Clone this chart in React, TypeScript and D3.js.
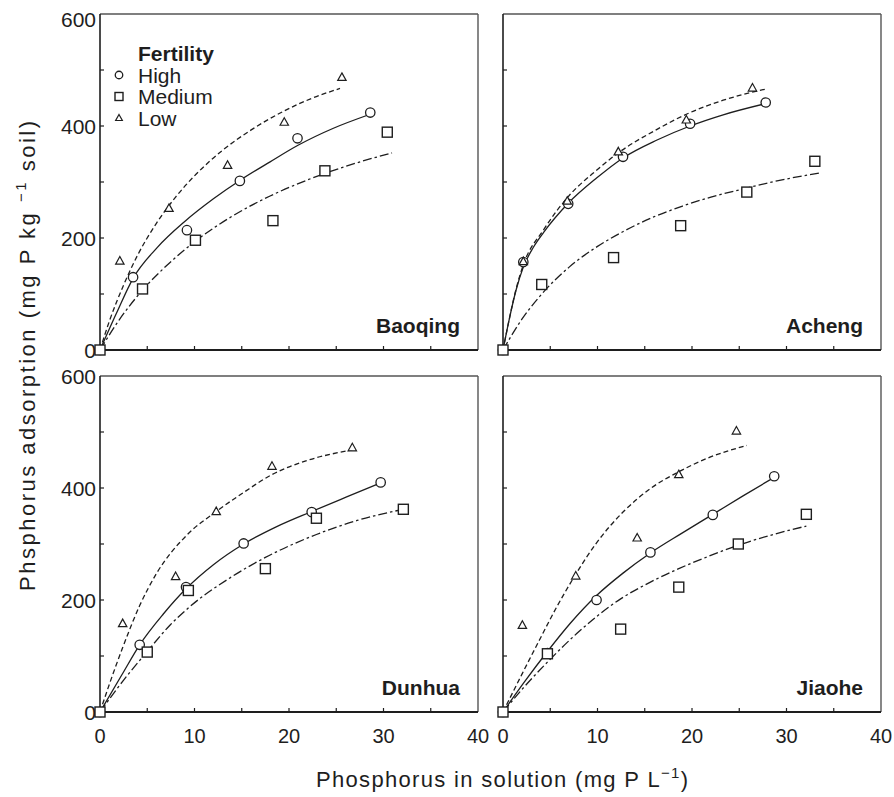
import React from "react";
import * as d3 from "d3";

type Pt = [number, number];

// ---------- tick labels ----------
const xTickLabels = [0, 10, 20, 30, 40];
const yTickLabels = [0, 200, 400, 600];
const xMinorTicks = [5, 10, 15, 20, 25, 30, 35];
const yMinorTicks = [100, 200, 300, 400, 500];
const fertilityLevels = ["High", "Medium", "Low"];
const siteNames = ["Baoqing", "Acheng", "Dunhua", "Jiaohe"];

// ---------- observed points [P in solution, P adsorbed] ----------
const baoqingHigh: Pt[] = [[0, 0], [3.5, 130], [9.2, 214], [14.8, 302], [20.9, 378], [28.6, 424]];
const baoqingMedium: Pt[] = [[0, 0], [4.5, 109], [10.1, 196], [18.3, 231], [23.8, 320], [30.4, 389]];
const baoqingLow: Pt[] = [[0, 0], [2.1, 159], [7.3, 253], [13.5, 330], [19.5, 407], [25.6, 487]];

const achengHigh: Pt[] = [[0, 0], [2.15, 157], [6.9, 261], [12.7, 345], [19.8, 404], [27.8, 442]];
const achengMedium: Pt[] = [[0, 0], [4.1, 117], [11.7, 165], [18.8, 222], [25.8, 282], [33.0, 337]];
const achengLow: Pt[] = [[0, 0], [2.15, 158], [6.8, 266], [12.2, 354], [19.4, 411], [26.4, 468]];

const dunhuaHigh: Pt[] = [[0, 0], [4.2, 120], [9.1, 223], [15.2, 301], [22.4, 357], [29.7, 410]];
const dunhuaMedium: Pt[] = [[0, 0], [5.0, 107], [9.35, 217], [17.5, 256], [22.9, 346], [32.1, 362]];
const dunhuaLow: Pt[] = [[0, 0], [2.4, 158], [8.0, 242], [12.3, 358], [18.2, 439], [26.7, 472]];

const jiaoheHigh: Pt[] = [[0, 0], [4.7, 105], [9.9, 200], [15.6, 285], [22.2, 352], [28.7, 421]];
const jiaoheMedium: Pt[] = [[0, 0], [4.7, 104], [12.45, 148], [18.6, 223], [24.9, 300], [32.1, 353]];
const jiaoheLow: Pt[] = [[0, 0], [2.05, 155], [7.7, 243], [14.2, 311], [18.6, 424], [24.7, 502]];

// ---------- fitted curves ----------
const baoqingHighFit: Pt[] = [[0, 0], [1.75, 66], [3.5, 128], [6, 182], [9, 230], [12, 270], [15, 305], [18, 336], [21, 366], [24.7, 396], [28.6, 421]];
const baoqingMediumFit: Pt[] = [[0, 0], [2, 53], [4.5, 107], [7, 150], [10, 193], [14, 239], [18, 275], [22, 304], [26, 328], [30.9, 352]];
const baoqingLowFit: Pt[] = [[0, 0], [1, 52], [2.5, 116], [4, 170], [6, 227], [8, 273], [10, 311], [13, 357], [16, 393], [19.5, 427], [22.5, 450], [25.4, 467]];

const achengHighFit: Pt[] = [[0, 0], [0.7, 58], [1.4, 108], [2.15, 148], [3.2, 183], [4.3, 210], [6.9, 262], [9.9, 307], [12.7, 343], [16.3, 375], [19.8, 400], [23.3, 420], [27.8, 440]];
const achengMediumFit: Pt[] = [[0, 0], [2, 55], [4, 98], [7, 148], [10, 185], [13, 214], [16, 238], [19, 257], [22, 273], [25.5, 288], [29, 302], [33.5, 316]];
const achengLowFit: Pt[] = [[0, 0], [0.7, 58], [1.4, 110], [2.15, 152], [4.27, 214], [6.91, 274], [9.9, 321], [12.2, 352], [16.3, 394], [19.4, 421], [23.3, 446], [27.8, 466]];

const dunhuaHighFit: Pt[] = [[0, 0], [2.3, 66], [4.2, 120], [6.7, 175], [9.1, 220], [12, 263], [15.2, 300], [18.7, 331], [22.4, 358], [26.1, 384], [29.7, 409]];
const dunhuaMediumFit: Pt[] = [[0, 0], [2.5, 57], [5, 108], [7.4, 155], [9.5, 188], [13.8, 240], [17.5, 276], [22.9, 317], [27.2, 342], [32.1, 362]];
const dunhuaLowFit: Pt[] = [[0, 0], [1, 50], [2.4, 115], [4.2, 190], [6, 248], [9.2, 316], [12.3, 358], [15.2, 392], [18.2, 424], [21.9, 449], [26.7, 468]];

const jiaoheHighFit: Pt[] = [[0, 0], [2.15, 51], [4.7, 108], [7.1, 158], [9.9, 208], [12.7, 248], [15.6, 284], [18.9, 319], [22.2, 353], [25.4, 386], [28.7, 419]];
const jiaoheMediumFit: Pt[] = [[0, 0], [2.2, 44], [4.7, 89], [7.8, 140], [12.45, 202], [15.6, 232], [18.6, 256], [21.6, 277], [24.9, 298], [28.6, 317], [32.1, 332]];
const jiaoheLowFit: Pt[] = [[0, 0], [2.05, 69], [3.9, 130], [5.7, 188], [7.7, 246], [9.9, 302], [12.7, 357], [15.6, 399], [18.6, 429], [21.9, 455], [25.8, 476]];

const sitePoints: Pt[][][] = [
  [baoqingHigh, baoqingMedium, baoqingLow],
  [achengHigh, achengMedium, achengLow],
  [dunhuaHigh, dunhuaMedium, dunhuaLow],
  [jiaoheHigh, jiaoheMedium, jiaoheLow],
];
const siteFits: Pt[][][] = [
  [baoqingHighFit, baoqingMediumFit, baoqingLowFit],
  [achengHighFit, achengMediumFit, achengLowFit],
  [dunhuaHighFit, dunhuaMediumFit, dunhuaLowFit],
  [jiaoheHighFit, jiaoheMediumFit, jiaoheLowFit],
];

// ---------- layout ----------
const W = 894;
const H = 797;
const panelW = 378;
const panelH = 336;
const panelOrigins = [
  { left: 100, top: 14 },
  { left: 503, top: 14 },
  { left: 100, top: 376 },
  { left: 503, top: 376 },
];
const FONT = "'Liberation Sans', Arial, Helvetica, sans-serif";
const INK = "#1e1e1e";
const dashStyles = ["none", "9,3,2.5,3", "5,3"]; // High solid, Medium dash-dot, Low dashed

function Marker({ kind, cx, cy, s = 1 }: { kind: number; cx: number; cy: number; s?: number }) {
  if (kind === 0) {
    return <circle cx={cx} cy={cy} r={4.7 * s} fill="#fff" stroke={INK} strokeWidth={1.3} />;
  }
  if (kind === 1) {
    const h = 5 * s;
    return <rect x={cx - h} y={cy - h} width={2 * h} height={2 * h} fill="#fff" stroke={INK} strokeWidth={1.4} />;
  }
  const a = 4.2 * s;
  return (
    <path
      d={`M${cx},${cy - a * 1.05} L${cx + a},${cy + a * 0.75} L${cx - a},${cy + a * 0.75} Z`}
      fill="#fff"
      stroke={INK}
      strokeWidth={1.2}
    />
  );
}

export default function App() {
  const x = d3.scaleLinear().domain([0, 40]).range([0, panelW]);
  const y = d3.scaleLinear().domain([0, 600]).range([panelH, 0]);
  const line = d3
    .line<Pt>()
    .x((d) => x(d[0]))
    .y((d) => y(d[1]))
    .curve(d3.curveMonotoneX);

  const markerOrder = [0, 2, 1];

  return (
    <svg
      width={W}
      height={H}
      style={{ position: "absolute", left: 0, top: 0, background: "#fff" }}
      fontFamily={FONT}
    >
      <rect width={W} height={H} fill="#fff" />
      {panelOrigins.map((o, i) => {
        const isLeft = i % 2 === 0;
        const isBottom = i >= 2;
        return (
          <g key={i} transform={`translate(${o.left},${o.top})`}>
            {/* frame */}
            <line x1={0} x2={panelW} y1={0} y2={0} stroke="#555" strokeWidth={1.4} />
            <line x1={panelW} x2={panelW} y1={0} y2={panelH} stroke="#555" strokeWidth={1.4} />
            <line x1={0} x2={0} y1={0} y2={panelH} stroke={INK} strokeWidth={1.6} />
            <line x1={0} x2={panelW} y1={panelH} y2={panelH} stroke={INK} strokeWidth={1.8} />
            {/* inner ticks */}
            {xMinorTicks.map((t) => (
              <line key={"xt" + t} x1={x(t)} x2={x(t)} y1={panelH} y2={panelH - 4} stroke={INK} strokeWidth={1.2} />
            ))}
            {yMinorTicks.map((t) => (
              <line key={"yt" + t} x1={0} x2={4} y1={y(t)} y2={y(t)} stroke={INK} strokeWidth={1.2} />
            ))}
            {/* y tick labels */}
            {isLeft &&
              yTickLabels.map((t) => (
                <text
                  key={"yl" + t}
                  x={-4}
                  y={t === 600 && !isBottom ? y(t) + 5 : y(t)}
                  dy="0.36em"
                  textAnchor="end"
                  fontSize={21}
                  fill={INK}
                >
                  {t}
                </text>
              ))}
            {/* x tick labels */}
            {isBottom &&
              xTickLabels.map((t) => (
                <text key={"xl" + t} x={x(t)} y={panelH + 31} textAnchor="middle" fontSize={20} fill={INK}>
                  {t}
                </text>
              ))}
            {/* fitted curves */}
            {siteFits[i].map((fit, s) => (
              <path
                key={"f" + s}
                d={line(fit) || ""}
                fill="none"
                stroke={INK}
                strokeWidth={1.3}
                strokeDasharray={dashStyles[s] === "none" ? undefined : dashStyles[s]}
              />
            ))}
            {/* points */}
            {markerOrder.map((s) =>
              sitePoints[i][s].map((p, k) => (
                <Marker key={`m${s}-${k}`} kind={s} cx={x(p[0])} cy={y(p[1])} />
              ))
            )}
            {/* site label */}
            <text x={panelW - 18} y={panelH - 17} textAnchor="end" fontSize={21} fontWeight="bold" fill={INK}>
              {siteNames[i]}
            </text>
          </g>
        );
      })}

      {/* legend */}
      <g>
        <text x={138} y={61} fontSize={21} fontWeight="bold" fill={INK}>
          Fertility
        </text>
        {fertilityLevels.map((name, s) => (
          <g key={name}>
            <Marker kind={s} cx={119} cy={75 + s * 21.5} s={0.8} />
            <text x={138} y={82.5 + s * 21.8} fontSize={21} fill={INK}>
              {name}
            </text>
          </g>
        ))}
      </g>

      {/* axis titles */}
      <text
        transform="translate(35,356) rotate(-90)"
        textAnchor="middle"
        fontSize={22}
        fill={INK}
        textLength={470}
        lengthAdjust="spacing"
      >
        Phsphorus adsorption (mg P kg <tspan fontSize={15} dy={-9}>−1</tspan>
        <tspan dy={9}> soil)</tspan>
      </text>
      <text x={502} y={787} textAnchor="middle" fontSize={22} fill={INK} textLength={372} lengthAdjust="spacing">
        Phosphorus in solution (mg P L<tspan fontSize={15} dy={-9}>−1</tspan>
        <tspan dy={9}>)</tspan>
      </text>
    </svg>
  );
}
